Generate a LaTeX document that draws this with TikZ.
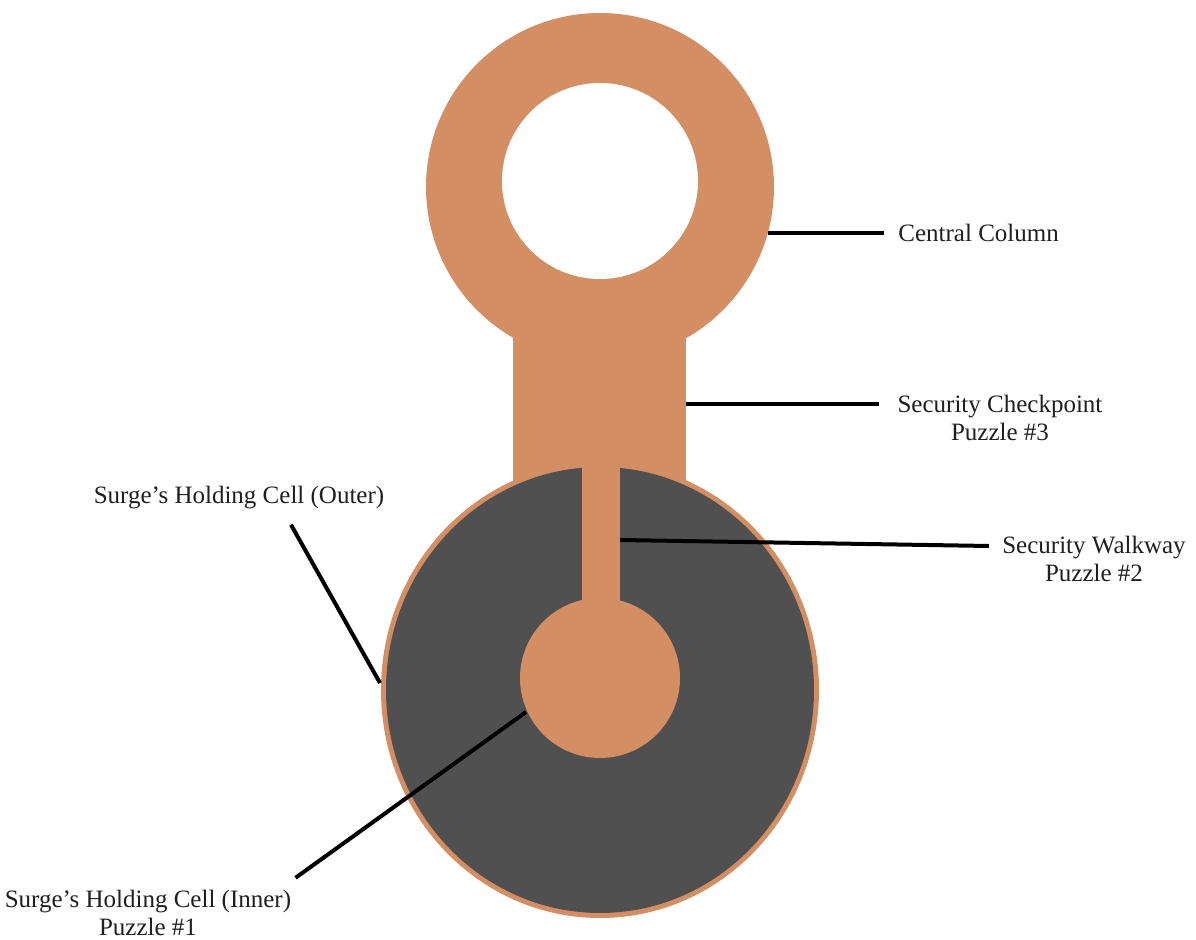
\documentclass[tikz,border=0pt]{standalone}
\usepackage{fontspec}
\setmainfont{Liberation Serif}
\usetikzlibrary{positioning}
\definecolor{cellorange}{RGB}{211,142,100}
\definecolor{cellgray}{RGB}{80,80,80}

\begin{document}
\begin{tikzpicture}[
  x=0.5pt, y=-0.5pt,
  font=\fontsize{12.5}{14}\selectfont,
  lbl/.style={align=center, text=black!88, inner sep=0pt},
  lead/.style={draw=black, line width=2pt}
]
\useasboundingbox (0,0) rectangle (1196,940);

% central column ring and the checkpoint shaft
\fill[cellorange] (600,187) circle [radius=174];
\fill[cellorange] (513,300) rectangle (686,490);
% holding cell, outer
\fill[cellorange] (600,690) ellipse [x radius=219, y radius=228];
\fill[cellgray]   (600,690) ellipse [x radius=214, y radius=223];
% walkway and inner cell
\fill[cellorange] (582,455) rectangle (620,620);
\fill[cellorange] (600,678) circle [radius=80];
% hole of the column
\fill[white] (600,181) circle [radius=98];

% where the leaders leave the plan
\coordinate (ccEnd)    at (768,233);
\coordinate (chkEnd)   at (686,404);
\coordinate (walkEnd)  at (620,540);
\coordinate (outerEnd) at (380,683);
\coordinate (innerEnd) at (526,712);

\node[lbl, anchor=west] (cc) at (898,233) {Central Column};
\node[lbl] (chk)   at (1000,418) {Security Checkpoint\\Puzzle \#3};
\node[lbl] (walk)  at (1094,559) {Security Walkway\\Puzzle \#2};
\node[lbl] (outer) at (239,498)  {Surge’s Holding Cell (Outer)};
\node[lbl] (inner) at (148,913)  {Surge’s Holding Cell (Inner)\\Puzzle \#1};

\draw[lead] (ccEnd) -- ([xshift=-7pt]cc.west);
\draw[lead] (chkEnd) -- ([xshift=-9pt]chkEnd -| chk.west);
\draw[lead] (walkEnd) -- ([xshift=-6.5pt, yshift=6.5pt]walk.west);
\draw[lead] (outerEnd) -- ([xshift=26pt, yshift=-7.5pt]outer.south);
\draw[lead] (innerEnd) -- ([xshift=2pt, yshift=6pt]inner.north east);
\end{tikzpicture}
\end{document}
